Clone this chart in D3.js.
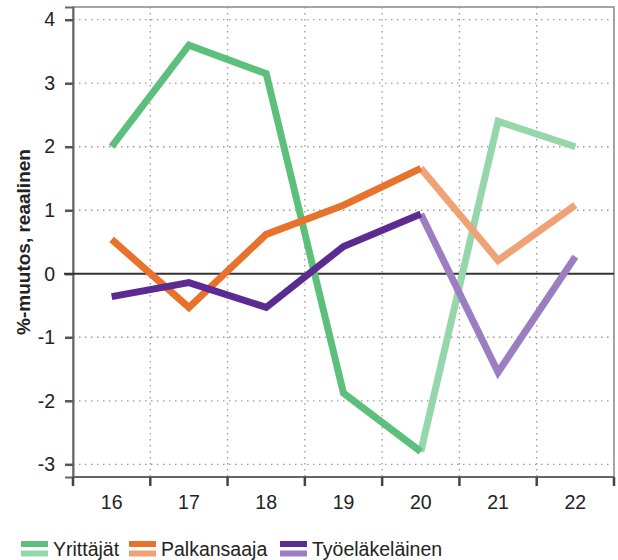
<!DOCTYPE html>
<html>
<head>
<meta charset="utf-8">
<script src="https://cdn.jsdelivr.net/npm/d3@7"></script>
<style>
  body { margin: 0; background: #fff; }
  text { font-family: "Liberation Sans", Arial, sans-serif; }
</style>
</head>
<body>
<div id="chart"></div>
<script>
const width = 618;
const height = 560;

// Data ////////////////////////////////////////////
const years = ["16", "17", "18", "19", "20", "21", "22"];
const yTicks = [-3, -2, -1, 0, 1, 2, 3, 4];
const yrittajat = [2.0, 3.6, 3.15, -1.88, -2.8, 2.4, 2.0];
const palkansaaja = [0.54, -0.53, 0.62, 1.08, 1.66, 0.21, 1.08];
const tyoelakelainen = [-0.36, -0.14, -0.53, 0.43, 0.94, -1.55, 0.27];
const seriesNames = ["Yrittäjät", "Palkansaaja", "Työeläkeläinen"];
// index where the light (estimate) part starts
const splitIndex = 4;

const colors = {
  "Yrittäjät": ["#5cc07c", "#95d7aa"],
  "Palkansaaja": ["#e8712b", "#eea275"],
  "Työeläkeläinen": ["#5b2b92", "#9b7dc2"]
};

const series = [
  { name: "Yrittäjät", values: yrittajat },
  { name: "Palkansaaja", values: palkansaaja },
  { name: "Työeläkeläinen", values: tyoelakelainen }
];

// Layout //////////////////////////////////////////
const margin = { top: 7, right: 4, bottom: 83, left: 73 };
const plotW = width - margin.left - margin.right;
const plotH = height - margin.top - margin.bottom;

const svg = d3
  .select("#chart")
  .append("svg")
  .attr("width", width)
  .attr("height", height);

const g = svg
  .append("g")
  .attr("transform", `translate(${margin.left},${margin.top})`);

const x = d3.scaleBand().domain(years).range([0, plotW]);
const y = d3.scaleLinear().domain([-3.2, 4.2]).range([plotH, 0]);
const cx = d => x(d) + x.bandwidth() / 2;

// Grid ////////////////////////////////////////////
g.selectAll(".hgrid")
  .data(yTicks.filter(t => t !== 0))
  .enter()
  .append("line")
  .attr("x1", 0)
  .attr("x2", plotW)
  .attr("y1", d => y(d))
  .attr("y2", d => y(d))
  .attr("stroke", "#999")
  .attr("stroke-width", 1.3)
  .attr("stroke-dasharray", "1.5,4.5");

g.selectAll(".vgrid")
  .data(years.slice(1))
  .enter()
  .append("line")
  .attr("x1", d => x(d))
  .attr("x2", d => x(d))
  .attr("y1", 0)
  .attr("y2", plotH)
  .attr("stroke", "#999")
  .attr("stroke-width", 1.3)
  .attr("stroke-dasharray", "1.5,4.5");

// Frame ///////////////////////////////////////////
g.append("rect")
  .attr("x", 0)
  .attr("y", 0)
  .attr("width", plotW)
  .attr("height", plotH)
  .attr("fill", "none")
  .attr("stroke", "#888")
  .attr("stroke-width", 1.5);

// Axes ////////////////////////////////////////////
const yAxis = g
  .append("g")
  .call(d3.axisLeft(y).tickValues(yTicks).tickSize(8).tickPadding(10).tickFormat(d3.format("d")));
yAxis.select(".domain").attr("stroke", "#666").attr("stroke-width", 2);
yAxis.selectAll(".tick line").attr("stroke", "#555").attr("stroke-width", 2.5);
yAxis.selectAll(".tick text")
  .attr("font-size", 19.5)
  .attr("fill", "#222")
  .text(d => (d < 0 ? "-" + Math.abs(d) : d));

const xAxis = g
  .append("g")
  .attr("transform", `translate(0,${plotH})`);
xAxis.append("line")
  .attr("x1", 0)
  .attr("x2", plotW)
  .attr("stroke", "#666")
  .attr("stroke-width", 2);
xAxis.selectAll(".xtick")
  .data(years.concat(["end"]))
  .enter()
  .append("line")
  .attr("x1", (d, i) => (i < years.length ? x(d) : plotW))
  .attr("x2", (d, i) => (i < years.length ? x(d) : plotW))
  .attr("y1", 0)
  .attr("y2", 9)
  .attr("stroke", "#444")
  .attr("stroke-width", 2.5);
xAxis.selectAll(".xlabel")
  .data(years)
  .enter()
  .append("text")
  .attr("x", d => cx(d))
  .attr("y", 32)
  .attr("text-anchor", "middle")
  .attr("font-size", 19.5)
  .attr("fill", "#222")
  .text(d => d);

// Zero line
g.append("line")
  .attr("x1", -9)
  .attr("x2", plotW)
  .attr("y1", y(0))
  .attr("y2", y(0))
  .attr("stroke", "#333")
  .attr("stroke-width", 2);

// Y label
svg.append("text")
  .attr("transform", `translate(30,${margin.top + y(0.5)}) rotate(-90)`)
  .attr("text-anchor", "middle")
  .attr("font-size", 19)
  .attr("font-weight", "bold")
  .attr("fill", "#222")
  .text("%-muutos, reaalinen");

// Lines ///////////////////////////////////////////
const line = d3
  .line()
  .x(d => cx(d.year))
  .y(d => y(d.value));

series.forEach(s => {
  const pts = s.values.map((v, i) => ({ year: years[i], value: v }));
  g.append("path")
    .datum(pts.slice(splitIndex))
    .attr("d", line)
    .attr("fill", "none")
    .attr("stroke", colors[s.name][1])
    .attr("stroke-width", 7);
  g.append("path")
    .datum(pts.slice(0, splitIndex + 1))
    .attr("d", line)
    .attr("fill", "none")
    .attr("stroke", colors[s.name][0])
    .attr("stroke-width", 7);
});

// Legend //////////////////////////////////////////
const legendX = [21, 129, 280];
const legend = svg
  .selectAll(".legend")
  .data(seriesNames)
  .enter()
  .append("g")
  .attr("transform", (d, i) => `translate(${legendX[i]},541)`);
legend.append("rect")
  .attr("width", 27)
  .attr("height", 6)
  .attr("fill", d => colors[d][0]);
legend.append("rect")
  .attr("y", 9.5)
  .attr("width", 27)
  .attr("height", 6)
  .attr("fill", d => colors[d][1]);
legend.append("text")
  .attr("x", 32)
  .attr("y", 15)
  .attr("font-size", 19.5)
  .attr("fill", "#222")
  .text(d => d);
</script>
</body>
</html>
